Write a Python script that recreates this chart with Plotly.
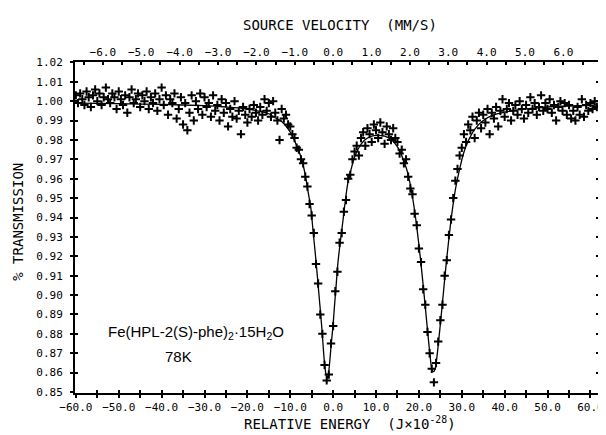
import numpy as np
import plotly.graph_objects as go

# ---- data ----
# Channel energies (J x 10^-28), uniform grid
energy = np.round(np.arange(-60.0, 61.75, 0.5), 2)

transmission = [
    1.003, 0.999, 1.004, 1.001, 0.998, 1.005, 1.002, 0.997, 1.003, 1.006,
    1.000, 1.004, 0.998, 1.002, 1.007, 1.001, 0.999, 1.004, 1.002, 0.996,
    1.005, 1.001, 0.998, 1.003, 0.994, 1.002, 1.006, 0.999, 1.001, 1.004,
    0.997, 1.003, 1.000, 1.005, 0.996, 1.002, 0.999, 1.004, 0.995, 1.001,
    1.007, 0.998, 1.003, 0.993, 1.001, 0.999, 1.004, 0.991, 0.996, 1.002,
    0.988, 0.999, 0.985, 0.994, 1.003, 0.990, 1.000, 0.996, 1.004, 0.993,
    1.002, 0.997, 0.999, 0.992, 1.003, 0.995, 0.998, 0.990, 1.001, 0.994,
    0.999, 0.987, 0.996, 0.992, 1.000, 0.991, 0.995, 0.983, 0.997, 0.993,
    0.989, 0.996, 0.992, 0.998, 0.994, 0.990, 0.997, 0.993, 1.001, 0.995,
    0.999, 0.992, 1.000, 0.994, 0.990, 0.980, 0.996, 0.991, 0.993, 0.988,
    0.987, 0.983, 0.981, 0.976, 0.975, 0.970, 0.968, 0.961, 0.956, 0.947,
    0.941, 0.932, 0.916, 0.906, 0.890, 0.880, 0.864, 0.856, 0.859, 0.875,
    0.884, 0.902, 0.912, 0.927, 0.932, 0.943, 0.949, 0.960, 0.962, 0.970,
    0.974, 0.977, 0.972, 0.981, 0.984, 0.977, 0.986, 0.983, 0.979, 0.988,
    0.985, 0.981, 0.989, 0.984, 0.978, 0.987, 0.983, 0.980, 0.986, 0.981,
    0.979, 0.973, 0.975, 0.968, 0.970, 0.961, 0.955, 0.952, 0.942, 0.936,
    0.924, 0.917, 0.903, 0.895, 0.881, 0.870, 0.862, 0.855, 0.865, 0.876,
    0.887, 0.895, 0.910, 0.918, 0.931, 0.939, 0.950, 0.959, 0.965, 0.972,
    0.976, 0.983, 0.979, 0.988, 0.985, 0.992, 0.981, 0.990, 0.994, 0.986,
    0.993, 0.989, 0.996, 0.983, 0.994, 0.991, 0.997, 0.987, 0.995, 1.001,
    0.992, 0.996, 0.999, 0.990, 0.995, 0.998, 0.993, 1.000, 0.996, 0.991,
    0.998, 0.994, 1.002, 0.996, 0.999, 0.993, 0.997, 1.003, 0.995, 0.999,
    0.996, 1.001, 0.994, 0.998, 0.990, 0.997, 1.000, 0.995, 0.999, 0.993,
    0.998, 0.991, 0.995, 0.990, 0.997, 0.993, 1.001, 0.992, 0.998, 0.995,
    0.999, 0.996, 1.000, 0.997,
]

fit_energy = [
    -60.2, -50.0, -40.0, -30.0, -25.0, -20.0, -15.0, -13.8, -12.0, -10.0,
    -8.5, -7.5, -6.5, -5.9, -5.2, -4.7, -4.1, -3.6, -3.1, -2.6,
    -2.1, -1.7, -1.4, -1.0, -0.5, 0.0, 0.3, 0.7, 1.1, 1.7,
    2.3, 2.8, 3.4, 4.2, 5.0, 6.0, 7.3, 8.8, 10.4, 12.0,
    13.4, 14.5, 15.5, 16.5, 17.4, 18.4, 19.4, 20.4, 21.4, 22.4,
    23.0, 23.4, 23.8, 24.4, 25.4, 26.4, 27.4, 28.4, 29.4, 30.4,
    31.4, 33.0, 35.0, 37.0, 40.0, 45.0, 50.0, 55.0, 62.0,
]
fit_transmission = [
    0.9990, 0.9987, 0.9983, 0.9977, 0.9970, 0.9960, 0.9935, 0.9918, 0.9895, 0.9840,
    0.9770, 0.9712, 0.9620, 0.9540, 0.9450, 0.9335, 0.9200, 0.9077, 0.8950, 0.8820,
    0.8670, 0.8595, 0.8570, 0.8610, 0.8733, 0.8850, 0.8940, 0.9050, 0.9163, 0.9280,
    0.9386, 0.9480, 0.9575, 0.9650, 0.9712, 0.9760, 0.9798, 0.9818, 0.9824, 0.9820,
    0.9805, 0.9780, 0.9745, 0.9690, 0.9630, 0.9520, 0.9370, 0.9180, 0.8960, 0.8730,
    0.8620, 0.8605, 0.8620, 0.8720, 0.8940, 0.9170, 0.9370, 0.9530, 0.9640, 0.9730,
    0.9790, 0.9855, 0.9900, 0.9925, 0.9943, 0.9960, 0.9970, 0.9975, 0.9980,
]

VEL_PER_ENERGY = 1 / 8.95  # source velocity (mm/s) per energy unit
X_RANGE = [-60.2, 62.0]
Y_RANGE = [0.8495, 1.0202]

mono = "DejaVu Sans Mono"
sans = "Liberation Sans, Arial, sans-serif"

fig = go.Figure()
fig.add_trace(go.Scatter(
    x=fit_energy, y=fit_transmission, mode="lines",
    line=dict(color="black", width=1.3, shape="spline", smoothing=0.6),
    hoverinfo="skip", showlegend=False,
))
fig.add_trace(go.Scatter(
    x=energy, y=transmission, mode="markers",
    marker=dict(symbol="cross-thin", size=6, line=dict(width=2, color="black"), color="black"),
    showlegend=False,
))
# helper traces to anchor the extra axes
fig.add_trace(go.Scatter(x=[None], y=[None], xaxis="x2", yaxis="y", showlegend=False))
fig.add_trace(go.Scatter(x=[None], y=[None], xaxis="x3", yaxis="y", showlegend=False))
fig.add_trace(go.Scatter(x=[None], y=[None], xaxis="x", yaxis="y2", showlegend=False))

tickfont = dict(family=mono, size=11, color="black")
titlefont = dict(family=mono, size=14, color="black")

fig.update_layout(
    width=606, height=435,
    margin=dict(l=67, r=15, t=54, b=50, autoexpand=False),
    paper_bgcolor="white", plot_bgcolor="white",
    xaxis=dict(
        range=X_RANGE, dtick=10, tick0=0, tickformat=".1f", automargin=False,
        ticks="outside", ticklen=3, tickwidth=1.5, tickcolor="black",
        minor=dict(dtick=5, ticks="outside", ticklen=3, tickwidth=1.5, tickcolor="black"),
        showline=True, linecolor="black", linewidth=2, showgrid=False, zeroline=False,
        tickfont=tickfont, ticklabelstandoff=0,
    ),
    xaxis3=dict(
        range=X_RANGE, overlaying="x", side="bottom", anchor="y", automargin=False,
        dtick=5, tick0=0, ticks="inside", ticklen=3, tickwidth=1.5, tickcolor="black",
        showticklabels=False, showline=False, showgrid=False, zeroline=False,
    ),
    xaxis2=dict(
        range=[X_RANGE[0] * VEL_PER_ENERGY, X_RANGE[1] * VEL_PER_ENERGY],
        overlaying="x", side="top", anchor="y", automargin=False,
        dtick=1, tick0=0, tickformat=".1f",
        ticks="inside", ticklen=3, tickwidth=1.5, tickcolor="black",
        minor=dict(dtick=0.5, ticks="inside", ticklen=3, tickwidth=1.5, tickcolor="black"),
        showline=True, linecolor="black", linewidth=2, showgrid=False, zeroline=False,
        tickfont=tickfont, ticklabelstandoff=0,
    ),
    yaxis=dict(
        range=Y_RANGE, dtick=0.01, tick0=0.85, tickformat=".2f", automargin=False,
        ticks="outside", ticklen=3, tickwidth=1.5, tickcolor="black",
        showline=True, linecolor="black", linewidth=2, mirror=True,
        showgrid=False, zeroline=False, tickfont=tickfont, ticklabelstandoff=5,
    ),
    yaxis2=dict(
        range=Y_RANGE, overlaying="y", side="left", anchor="x", automargin=False,
        dtick=0.01, tick0=0.85, ticks="inside", ticklen=3, tickwidth=1.5, tickcolor="black",
        showticklabels=False, showline=False, mirror="ticks", showgrid=False, zeroline=False,
    ),
    annotations=[
        dict(x=0.506, y=1.112, xref="paper", yref="paper", showarrow=False,
             xanchor="center", yanchor="middle",
             text="SOURCE VELOCITY  (MM/S)", font=titlefont),
        dict(x=0.525, y=-0.0906, xref="paper", yref="paper", showarrow=False,
             xanchor="center", yanchor="middle",
             text="RELATIVE ENERGY  (J×10<sup>-28</sup>)", font=titlefont),
        dict(x=-0.109, y=0.517, xref="paper", yref="paper", showarrow=False,
             xanchor="center", yanchor="middle",
             text="% TRANSMISSION", font=titlefont, textangle=-90),
        dict(x=-32, y=0.8805, xref="x", yref="y", showarrow=False,
             xanchor="center", yanchor="middle",
             text="Fe(HPL-2(S)-phe)<sub>2</sub>·15H<sub>2</sub>O",
             font=dict(family=sans, size=15, color="black")),
        dict(x=-36, y=0.8685, xref="x", yref="y", showarrow=False,
             xanchor="center", yanchor="middle",
             text="78K", font=dict(family=sans, size=15, color="black")),
    ],
)

fig.write_html("out.html")
